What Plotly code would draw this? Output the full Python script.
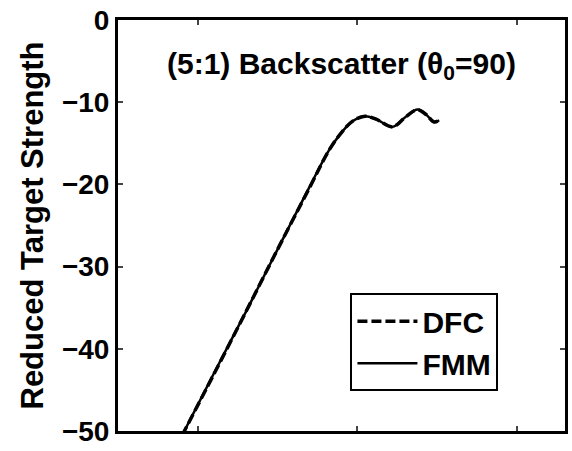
import plotly.graph_objects as go

# Backscatter reduced target strength vs. frequency parameter (log scale)
ka = [0.0794, 0.126, 0.200, 0.316, 0.501, 0.661, 0.794, 0.933, 1.114,
      1.318, 1.66, 2.00, 2.38, 2.69, 3.02, 3.25]
dfc_db = [-50.6, -43.1, -35.5, -27.9, -20.4, -15.9, -13.7, -12.3, -11.7,
          -12.1, -13.0, -11.8, -10.9, -11.5, -12.4, -12.2]
fmm_db = [-50.6, -43.0, -35.5, -27.9, -20.3, -15.9, -13.7, -12.3, -11.7,
          -12.1, -13.0, -11.8, -10.9, -11.5, -12.4, -12.2]

y_ticks = [0, -10, -20, -30, -40, -50]
x_ticks = [0.1, 1, 10]

FONT = "Liberation Sans"

fig = go.Figure()
fig.add_trace(go.Scatter(x=ka, y=dfc_db, name="DFC", mode="lines",
                         line=dict(color="black", width=3.5, dash="10px,4px",
                                   shape="spline")))
fig.add_trace(go.Scatter(x=ka, y=fmm_db, name="FMM", mode="lines",
                         line=dict(color="black", width=2.5, shape="spline")))

fig.update_layout(
    width=572, height=451,
    margin=dict(l=118, r=4, t=20, b=20),
    paper_bgcolor="white", plot_bgcolor="white",
    font=dict(family=FONT, color="black", size=30, weight="bold"),
    showlegend=True,
    legend=dict(x=0.52, y=0.335, xanchor="left", yanchor="top",
                bordercolor="black", borderwidth=2, bgcolor="white",
                font=dict(family=FONT, size=30, weight="bold"),
                itemwidth=60, tracegroupgap=0),
    annotations=[dict(text="(5:1) Backscatter (θ<sub>0</sub>=90)",
                      xref="paper", yref="paper", x=0.5, y=0.89,
                      xanchor="center", yanchor="middle", showarrow=False,
                      font=dict(family=FONT, size=30, weight="bold"))],
)

fig.update_xaxes(type="log", range=[-1.5, 1.3], tickvals=x_ticks,
                 showticklabels=False, ticks="inside", ticklen=5, tickwidth=2,
                 showline=True, linecolor="black", linewidth=3, mirror="ticks",
                 showgrid=False, zeroline=False)
fig.update_yaxes(range=[-50, 0], tickvals=y_ticks, ticks="inside", ticklen=5,
                 tickwidth=2, showline=True, linecolor="black", linewidth=3,
                 mirror="ticks", showgrid=False, zeroline=False,
                 tickfont=dict(family=FONT, size=28, weight="bold"),
                 title=dict(text="Reduced Target Strength", standoff=10,
                            font=dict(family=FONT, size=31, weight="bold")))

fig.write_html("out.html")
